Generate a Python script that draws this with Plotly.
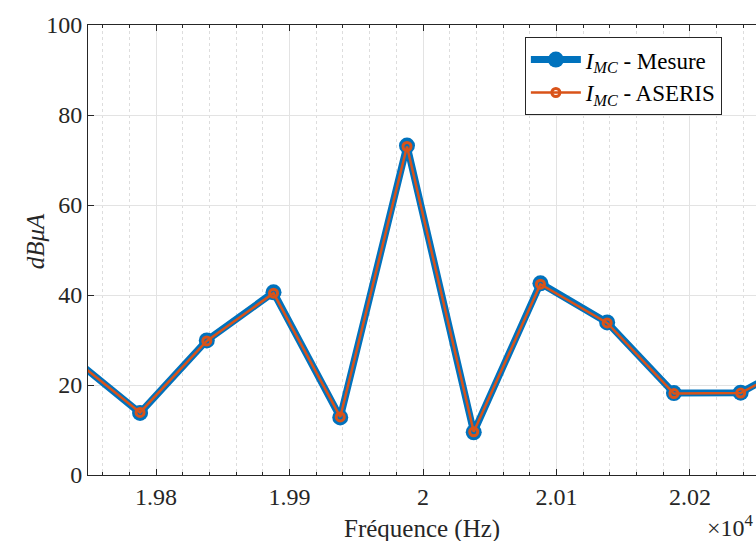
import plotly.graph_objects as go

freq = [19738, 19788, 19838, 19888, 19938, 19988, 20038, 20088, 20138, 20188, 20238, 20288]
mesure = [25.9, 13.8, 29.9, 40.6, 12.8, 73.2, 9.5, 42.6, 33.9, 18.2, 18.3, 26.4]
aseris = [25.8, 13.9, 29.8, 40.4, 12.9, 73.0, 9.6, 42.4, 33.8, 18.1, 18.2, 26.2]

x_tickvals = [19800, 19900, 20000, 20100, 20200]
x_ticktext = ["1.98", "1.99", "2", "2.01", "2.02"]
y_tickvals = [0, 20, 40, 60, 80, 100]

FONT = "Liberation Serif"
BLUE = "#0072BD"
ORANGE = "#D95319"
AX = "#262626"

fig = go.Figure()
fig.add_trace(go.Scatter(
    x=freq, y=mesure, mode="lines+markers",
    name="<i>I</i><sub><i>MC</i></sub> - Mesure",
    line=dict(color=BLUE, width=7),
    marker=dict(color=BLUE, size=16, symbol="circle"),
))
fig.add_trace(go.Scatter(
    x=freq, y=aseris, mode="lines+markers",
    name="<i>I</i><sub><i>MC</i></sub> - ASERIS",
    line=dict(color=ORANGE, width=2.5),
    marker=dict(color=ORANGE, size=8, symbol="circle-open", line=dict(color=ORANGE, width=3)),
))

fig.update_layout(
    width=756, height=541,
    margin=dict(l=88, r=0, t=25, b=66, autoexpand=False),
    paper_bgcolor="white", plot_bgcolor="white",
    font=dict(family=FONT, size=24, color=AX),
    showlegend=True,
    legend=dict(
        x=0.654, y=0.973, xanchor="left", yanchor="top",
        bgcolor="white", bordercolor=AX, borderwidth=1,
        font=dict(family=FONT, size=23, color="black"),
        itemwidth=50, tracegroupgap=0,
    ),
    xaxis=dict(
        range=[19749, 20249.5], automargin=False,
        tickmode="array", tickvals=x_tickvals, ticktext=x_ticktext,
        ticks="inside", ticklen=6, tickcolor=AX, tickwidth=1,
        showline=True, linecolor=AX, linewidth=1, mirror="ticks",
        showgrid=True, gridcolor="#e3e3e3", gridwidth=1,
        zeroline=False,
        tickfont=dict(family=FONT, size=24, color=AX),
        minor=dict(dtick=20, tick0=19800, ticks="inside", ticklen=3, tickcolor=AX,
                   showgrid=True, gridcolor="#dddddd", griddash="dot", gridwidth=1),
    ),
    yaxis=dict(
        range=[0, 100], automargin=False,
        tickmode="array", tickvals=y_tickvals,
        ticks="inside", ticklen=6, tickcolor=AX, tickwidth=1,
        showline=True, linecolor=AX, linewidth=1, mirror=False,
        showgrid=True, gridcolor="#e3e3e3", gridwidth=1,
        zeroline=False,
        tickfont=dict(family=FONT, size=24, color=AX),
    ),
)

fig.add_annotation(
    xref="paper", yref="paper", x=0.5, y=-0.121,
    xanchor="center", yanchor="middle", showarrow=False,
    text="Fréquence (Hz)", font=dict(family=FONT, size=25, color=AX),
)
fig.add_annotation(
    xref="paper", yref="paper", x=-0.079, y=0.52,
    xanchor="center", yanchor="middle", showarrow=False, textangle=-90,
    text="<i>dBμA</i>", font=dict(family=FONT, size=25, color=AX),
)
fig.add_annotation(
    xref="paper", yref="paper", x=1.0, y=-0.114,
    xanchor="right", yanchor="middle", showarrow=False,
    text="×10<sup>4</sup>", font=dict(family=FONT, size=24, color=AX),
)

fig.write_html(
    "out.html",
    config={"displayModeBar": False},
    post_script="document.body.style.margin='0';document.body.style.overflow='hidden';",
)
